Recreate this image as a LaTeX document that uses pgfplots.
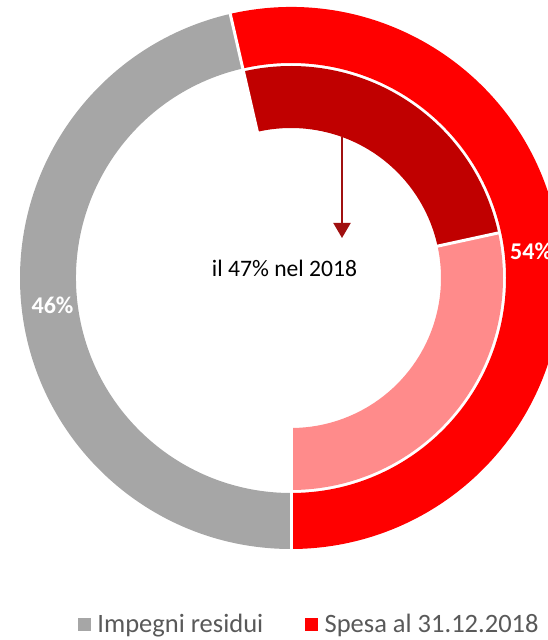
\documentclass[border=0pt]{standalone}
\usepackage{fontspec}
\setmainfont{Carlito}
\usepackage{pgfplots}
\usepackage{pgfplotstable}
\pgfplotsset{compat=1.18}
\usetikzlibrary{arrows.meta}
\definecolor{cgray}{HTML}{A6A6A6}
\definecolor{cred}{HTML}{FF0000}
\definecolor{cdark}{HTML}{C00000}
\definecolor{clight}{HTML}{FF8B8B}
\definecolor{carrow}{HTML}{A01010}
\definecolor{ctext}{HTML}{595959}

% outer ring: share of each series (percent)
\pgfplotstableread{
serie valore
Impegni 46.4
Spesa 53.6
}\ringdata
% inner ring: split of the expenditure (percent of Spesa)
\pgfplotstableread{
parte quota
nel2018 47
altro 53
}\innerdata

\newcommand\sector[5]{%
  \fill[#1] ([shift={(#2:#4)}]axis cs:291,362) arc[start angle=#2,end angle=#3,radius=#4]
    -- ([shift={(#3:#5)}]axis cs:291,362) arc[start angle=#3,end angle=#2,radius=#5] -- cycle;}
\newcommand\sepline[3]{%
  \draw[white,line width=3pt] ([shift={(#1:#2)}]axis cs:291,362) -- ([shift={(#1:#3)}]axis cs:291,362);}

\begin{document}
\begin{tikzpicture}
\pgfplotstablegetelem{0}{valore}\of\ringdata \let\vgray\pgfplotsretval
\pgfplotstablegetelem{1}{valore}\of\ringdata \let\vred\pgfplotsretval
\pgfplotstablegetelem{0}{quota}\of\innerdata \let\vdark\pgfplotsretval
\pgfmathsetmacro\agray{270-3.6*\vgray}
\pgfmathsetmacro\adark{\agray-3.6*\vred*\vdark/100}
\begin{axis}[
  width=548pt,height=640pt,scale only axis,
  xmin=0,xmax=548,ymin=0,ymax=640,
  axis line style={draw=none},xtick=\empty,ytick=\empty,
  clip=true,
  legend columns=2,
  legend style={at={(axis cs:78,16)},anchor=west,draw=none,fill=none,
    inner sep=0pt,outer sep=0pt,
    font=\fontsize{26.5}{30}\selectfont,text=ctext,
    nodes={inner sep=0pt},
    /tikz/every odd column/.append style={column sep=7pt},
    /tikz/every even column/.append style={column sep=42pt}},
]
\sector{cgray}{270}{\agray}{271pt}{215pt}
\sector{cred}{\agray}{-90}{271pt}{215pt}
\sector{cdark}{\agray}{\adark}{212pt}{150pt}
\sector{clight}{\adark}{-90}{212pt}{150pt}
\sepline{\agray}{148pt}{273pt}
\sepline{-90}{148pt}{273pt}
\sepline{\adark}{148pt}{214pt}
\draw[carrow,line width=2pt,-{Triangle[length=15pt,width=17pt]}] (axis cs:342,503) -- (axis cs:342,402);
\node[anchor=base,inner sep=0pt,text=black,font=\fontsize{23.6}{28}\selectfont] at (axis cs:284.5,363.3) {il 47\% nel 2018};
\node[anchor=base,inner sep=0pt,text=white,font=\bfseries\fontsize{24}{28}\selectfont] at (axis cs:52.5,326) {46\%};
\node[anchor=base west,inner sep=0pt,text=white,font=\bfseries\fontsize{24}{28}\selectfont] at (axis cs:510,380) {54\%};
\addlegendimage{legend image code/.code={\fill[cgray] (0pt,-6pt) rectangle (12pt,6pt);}}
\addlegendentry{Impegni residui}
\addlegendimage{legend image code/.code={\fill[cred] (0pt,-6pt) rectangle (12pt,6pt);}}
\addlegendentry{Spesa al 31.12.2018}
\end{axis}
\end{tikzpicture}
\end{document}
